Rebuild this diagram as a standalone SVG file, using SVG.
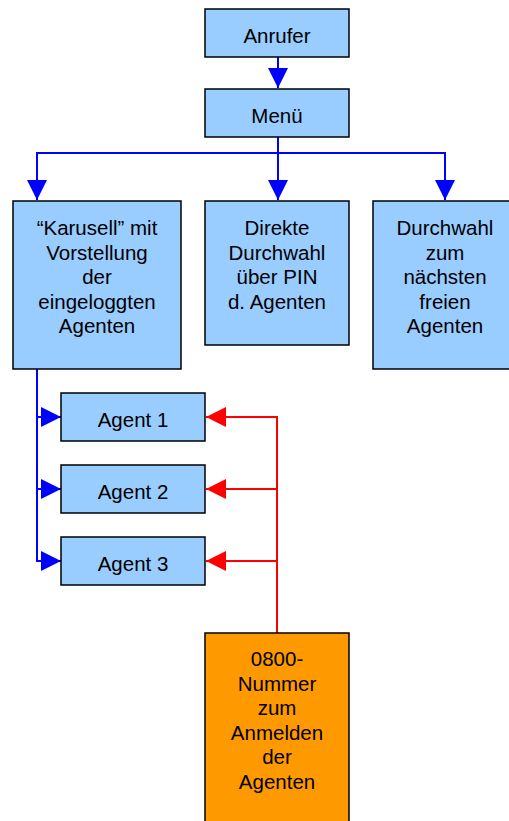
<svg xmlns="http://www.w3.org/2000/svg" width="509" height="821" viewBox="0 0 509 821">
<style>
.b{fill:#99CCFF;stroke:#000;stroke-width:1.5}
.o{fill:#FF9900;stroke:#000;stroke-width:1.5}
text{font-family:"Liberation Sans",Arial,sans-serif;font-size:20.5px;fill:#000;text-anchor:middle}
.bl{stroke:#0000FF;stroke-width:2;fill:none}
.rd{stroke:#FF0000;stroke-width:2;fill:none}
</style>
<defs>
<marker id="ab" viewBox="0 0 20 20" refX="20" refY="10" markerWidth="20" markerHeight="20" markerUnits="userSpaceOnUse" orient="auto"><path d="M0,0L20,10L0,20z" fill="#0000FF"/></marker>
<marker id="ar" viewBox="0 0 20 20" refX="20" refY="10" markerWidth="20" markerHeight="20" markerUnits="userSpaceOnUse" orient="auto"><path d="M0,0L20,10L0,20z" fill="#FF0000"/></marker>
</defs>
<g id="connectors">
<path class="bl" d="M278,57V88" marker-end="url(#ab)"/>
<path class="bl" d="M278,137V200" marker-end="url(#ab)"/>
<path class="bl" d="M278,153H37V200" marker-end="url(#ab)"/>
<path class="bl" d="M278,153H445V200" marker-end="url(#ab)"/>
<path class="bl" d="M37,369V417H61" marker-end="url(#ab)"/>
<path class="bl" d="M37,417V489H61" marker-end="url(#ab)"/>
<path class="bl" d="M37,489V561H61" marker-end="url(#ab)"/>
<path class="rd" d="M277,633V417H206" marker-end="url(#ar)"/>
<path class="rd" d="M277,489H206" marker-end="url(#ar)"/>
<path class="rd" d="M277,561H206" marker-end="url(#ar)"/>
</g>
<g id="anrufer"><rect class="b" x="205" y="9" width="144" height="48"/><text x="277" y="43">Anrufer</text></g>
<g id="menu"><rect class="b" x="205" y="89" width="144" height="48"/><text x="277" y="123">Menü</text></g>
<g id="karusell"><rect class="b" x="13" y="201" width="168" height="168"/>
<text x="97" y="235">“Karusell” mit</text><text x="97" y="259.5">Vorstellung</text><text x="97" y="284">der</text><text x="97" y="308.5">eingeloggten</text><text x="97" y="333">Agenten</text></g>
<g id="direkt"><rect class="b" x="205" y="201" width="144" height="144"/>
<text x="277" y="235">Direkte</text><text x="277" y="259.5">Durchwahl</text><text x="277" y="284">über PIN</text><text x="277" y="308.5">d. Agenten</text></g>
<g id="durchwahl"><rect class="b" x="373" y="201" width="144" height="168"/>
<text x="445" y="235">Durchwahl</text><text x="445" y="259.5">zum</text><text x="445" y="284">nächsten</text><text x="445" y="308.5">freien</text><text x="445" y="333">Agenten</text></g>
<g id="agent1"><rect class="b" x="61" y="393" width="144" height="48"/><text x="133" y="427">Agent 1</text></g>
<g id="agent2"><rect class="b" x="61" y="465" width="144" height="48"/><text x="133" y="499">Agent 2</text></g>
<g id="agent3"><rect class="b" x="61" y="537" width="144" height="48"/><text x="133" y="571">Agent 3</text></g>
<g id="nummer"><rect class="o" x="205" y="633" width="144" height="200"/>
<text x="277" y="666">0800-</text><text x="277" y="690.5">Nummer</text><text x="277" y="715">zum</text><text x="277" y="739.5">Anmelden</text><text x="277" y="764">der</text><text x="277" y="788.5">Agenten</text></g>
</svg>
